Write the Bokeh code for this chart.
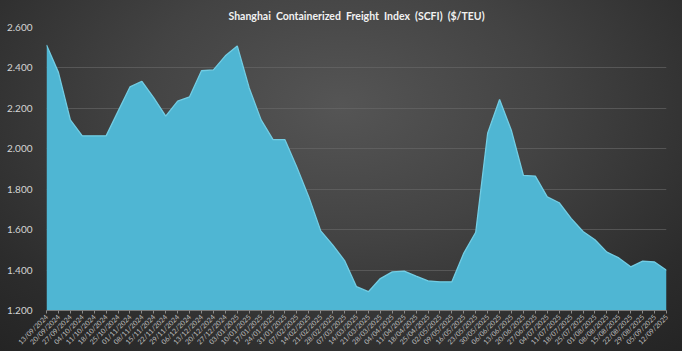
from bokeh.plotting import figure
from bokeh.models import Range1d, FixedTicker
from bokeh.embed import file_html
from bokeh.resources import INLINE

dates = [
    "13/09/2024", "20/09/2024", "27/09/2024", "04/10/2024", "11/10/2024", "18/10/2024",
    "25/10/2024", "01/11/2024", "08/11/2024", "15/11/2024", "22/11/2024", "29/11/2024",
    "06/12/2024", "13/12/2024", "20/12/2024", "27/12/2024", "03/01/2025", "10/01/2025",
    "17/01/2025", "24/01/2025", "31/01/2025", "07/02/2025", "14/02/2025", "21/02/2025",
    "28/02/2025", "07/03/2025", "14/03/2025", "21/03/2025", "28/03/2025", "04/04/2025",
    "11/04/2025", "18/04/2025", "25/04/2025", "02/05/2025", "09/05/2025", "16/05/2025",
    "23/05/2025", "30/05/2025", "06/06/2025", "13/06/2025", "20/06/2025", "27/06/2025",
    "04/07/2025", "11/07/2025", "18/07/2025", "25/07/2025", "01/08/2025", "08/08/2025",
    "15/08/2025", "22/08/2025", "29/08/2025", "05/09/2025", "12/09/2025",
]

scfi = [
    2514, 2378, 2143, 2064, 2064, 2064, 2185, 2306, 2334, 2252,
    2162, 2236, 2257, 2386, 2390, 2460, 2509, 2301, 2143, 2045,
    2045, 1909, 1762, 1594, 1525, 1447, 1318, 1293, 1358, 1391,
    1395, 1370, 1347, 1342, 1342, 1484, 1587, 2077, 2244, 2089,
    1868, 1865, 1762, 1733, 1656, 1591, 1550, 1489, 1460, 1416,
    1444, 1440, 1399,
]

y_ticks = [1200, 1400, 1600, 1800, 2000, 2200, 2400, 2600]
y_tick_labels = ["1.200", "1.400", "1.600", "1.800", "2.000", "2.200", "2.400", "2.600"]

title_text = "Shanghai\u00a0 Containerized\u00a0 Freight\u00a0 Index\u00a0 (SCFI)\u00a0 ($/TEU)"

idx = list(range(len(dates)))

p = figure(width=682, height=351, output_backend="svg", toolbar_location=None,
           x_range=Range1d(0, len(dates) - 1), y_range=Range1d(1200, 2600),
           min_border_left=46, min_border_right=16, min_border_top=27, min_border_bottom=38,
           title=title_text)

p.styles = {"background": "radial-gradient(ellipse 75% 95% at 50% 30%, #555555 0%, #434343 40%, #2c2c2c 80%, #242424 100%)"}
p.background_fill_alpha = 0
p.border_fill_alpha = 0
p.outline_line_color = None

p.title.align = "center"
p.title.text_color = "#f2f2f2"
p.title.text_font = "Lato"
p.title.text_font_style = "bold"
p.title.text_font_size = "10.5px"
p.title.offset = -16
p.title.standoff = 12

p.varea(x=idx, y1=[1200] * len(idx), y2=scfi, fill_color="#4fb6d3", fill_alpha=1.0)
p.line(x=idx, y=scfi, line_color="#72cde4", line_width=1.3)

p.xaxis.ticker = FixedTicker(ticks=idx)
p.xaxis.major_label_overrides = {i: d for i, d in enumerate(dates)}
p.xaxis.major_label_orientation = 0.785398
p.xaxis.major_label_text_font_size = "7px"
p.xaxis.major_label_text_color = "#bdbdbd"
p.xaxis.major_label_text_font = "Lato"
p.xaxis.major_label_standoff = 2
p.xaxis.axis_line_color = "#7a7a7a"
p.xaxis.major_tick_line_color = "#8a8a8a"
p.xaxis.major_tick_in = 0
p.xaxis.major_tick_out = 3
p.xaxis.minor_tick_line_color = None

p.yaxis.ticker = FixedTicker(ticks=y_ticks)
p.yaxis.major_label_overrides = {t: l for t, l in zip(y_ticks, y_tick_labels)}
p.yaxis.major_label_text_font_size = "10px"
p.yaxis.major_label_text_color = "#d4d4d4"
p.yaxis.major_label_text_font = "Lato"
p.yaxis.axis_line_color = None
p.yaxis.major_tick_line_color = None
p.yaxis.minor_tick_line_color = None
p.yaxis.major_label_standoff = 8

p.xgrid.grid_line_color = None
p.ygrid.grid_line_color = "#6a6a6a"
p.ygrid.grid_line_alpha = 0.6
p.ygrid.grid_line_width = 1

open("out.html", "w").write(file_html(p, INLINE))
